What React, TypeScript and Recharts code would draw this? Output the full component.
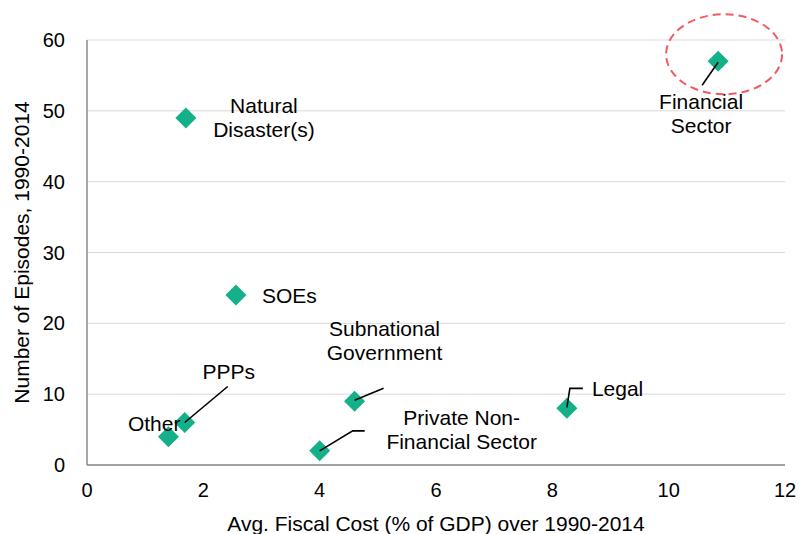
import React from "react"
import { ScatterChart, Scatter, XAxis, YAxis, CartesianGrid, Label } from "recharts"

const categories = [
  "Natural Disaster(s)",
  "Financial Sector",
  "SOEs",
  "Subnational Government",
  "PPPs",
  "Other",
  "Private Non-Financial Sector",
  "Legal",
]
const fiscalCost = [1.7, 10.85, 2.56, 4.6, 1.68, 1.4, 4.0, 8.25]
const episodes = [49, 57, 24, 9, 6, 4, 2, 8]
const xTicks = [0, 2, 4, 6, 8, 10, 12]
const yTicks = [0, 10, 20, 30, 40, 50, 60]

const data = categories.map((name, i) => ({ name, x: fiscalCost[i], y: episodes[i] }))

const FONT = "'Liberation Sans', Arial, sans-serif"
const GREEN = "#14b08a"

// label placement relative to each point: text lines, anchor, offsets, leader line
type Note = {
  lines: string[]
  dx: number
  dy: number
  anchor: "start" | "middle" | "end"
  leader?: [number, number][]
  ring?: boolean
}

const notes: Record<string, Note> = {
  "Natural Disaster(s)": { lines: ["Natural", "Disaster(s)"], dx: 78, dy: -5, anchor: "middle" },
  "Financial Sector": {
    lines: ["Financial", "Sector"],
    dx: -17,
    dy: 48,
    anchor: "middle",
    leader: [[0, 1], [-16, 24]],
    ring: true,
  },
  SOEs: { lines: ["SOEs"], dx: 26, dy: 8, anchor: "start" },
  "Subnational Government": {
    lines: ["Subnational", "Government"],
    dx: 30,
    dy: -65,
    anchor: "middle",
    leader: [[0, -1], [29, -13]],
  },
  PPPs: { lines: ["PPPs"], dx: 44, dy: -44, anchor: "middle", leader: [[0, 0], [43, -36]] },
  Other: { lines: ["Other"], dx: 12, dy: -6, anchor: "end" },
  "Private Non-Financial Sector": {
    lines: ["Private Non-", "Financial Sector"],
    dx: 142,
    dy: -26,
    anchor: "middle",
    leader: [[0, 0], [33, -20], [45, -20]],
  },
  Legal: { lines: ["Legal"], dx: 25, dy: -12, anchor: "start", leader: [[0, -1], [3, -20], [16, -20]] },
}

const Diamond = (props: any) => {
  const { cx, cy, payload } = props
  const n = notes[payload.name]
  const r = 10.5
  return (
    <g>
      {n && n.ring && (
        <ellipse
          cx={cx + 6}
          cy={cy - 7}
          rx={58}
          ry={40}
          fill="none"
          stroke="#f25a5e"
          strokeWidth={2}
          strokeDasharray="8 5"
        />
      )}
      <polygon
        points={`${cx},${cy - r} ${cx + r},${cy} ${cx},${cy + r} ${cx - r},${cy}`}
        fill={GREEN}
      />
      {n && n.leader && (
        <polyline
          points={n.leader.map(([a, b]) => `${cx + a},${cy + b}`).join(" ")}
          fill="none"
          stroke="#000"
          strokeWidth={1.6}
        />
      )}
      {n &&
        n.lines.map((t, i) => (
          <text
            key={i}
            x={cx + n.dx}
            y={cy + n.dy + i * 24}
            textAnchor={n.anchor}
            fontSize={21}
            fontFamily={FONT}
            fill="#000"
          >
            {t}
          </text>
        ))}
    </g>
  )
}

export default function App() {
  return (
    <div style={{ position: "absolute", left: 0, top: 0, width: 802, height: 534, background: "#fff" }}>
      <ScatterChart width={802} height={534} margin={{ top: 40, right: 17, bottom: 0, left: 0 }}>
        <CartesianGrid vertical={false} stroke="#d9d9d9" />
        <XAxis
          type="number"
          dataKey="x"
          domain={[0, 12]}
          ticks={xTicks}
          height={69}
          tickLine={false}
          axisLine={{ stroke: "#888888", strokeWidth: 1.5 }}
          tickMargin={12}
          tick={{ fontSize: 20, fill: "#000", fontFamily: FONT }}
        >
          <Label
            content={(p: any) => {
              const vb = p.viewBox
              return (
                <text
                  x={vb.x + vb.width / 2}
                  y={531}
                  textAnchor="middle"
                  fontSize={21}
                  fontFamily={FONT}
                  fill="#000"
                >
                  Avg. Fiscal Cost (% of GDP) over 1990-2014
                </text>
              )
            }}
          />
        </XAxis>
        <YAxis
          type="number"
          dataKey="y"
          domain={[0, 60]}
          ticks={yTicks}
          width={87}
          tickLine={false}
          axisLine={{ stroke: "#888888", strokeWidth: 1.5 }}
          tickMargin={16}
          tick={{ fontSize: 20, fill: "#000", fontFamily: FONT }}
        >
          <Label
            content={(p: any) => {
              const vb = p.viewBox
              const cy = vb.y + vb.height / 2
              return (
                <text
                  x={29}
                  y={cy}
                  transform={`rotate(-90, 29, ${cy})`}
                  textAnchor="middle"
                  fontSize={21}
                  fontFamily={FONT}
                  fill="#000"
                >
                  Number of Episodes, 1990-2014
                </text>
              )
            }}
          />
        </YAxis>
        <Scatter data={data} shape={Diamond} isAnimationActive={false} />
      </ScatterChart>
    </div>
  )
}
